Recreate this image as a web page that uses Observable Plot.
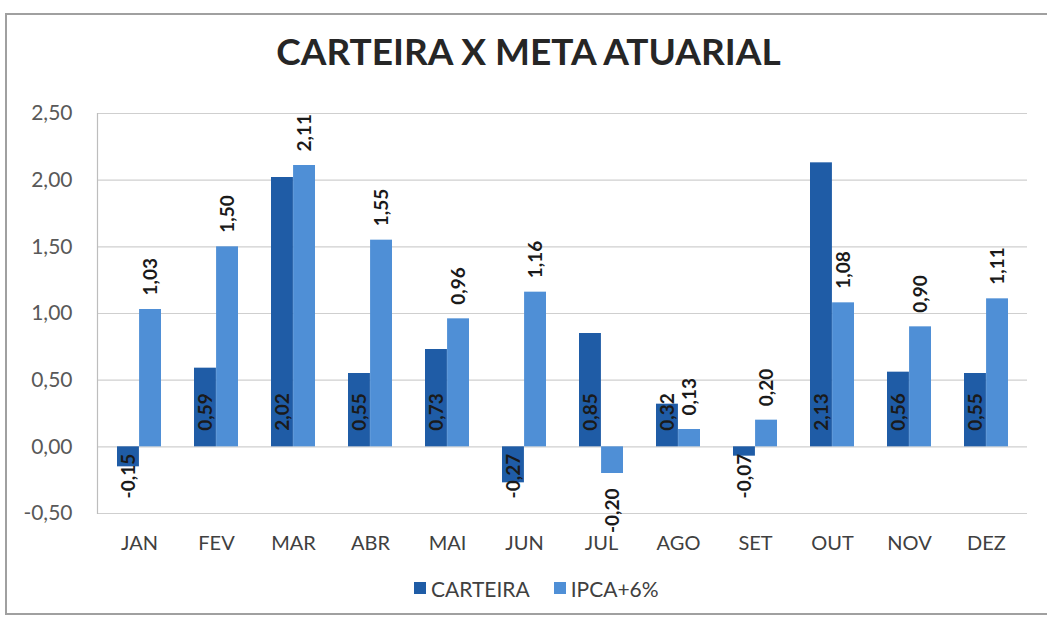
<!DOCTYPE html>
<html>
<head>
<meta charset="utf-8">
<script src="https://cdn.jsdelivr.net/npm/d3@7"></script>
<script src="https://cdn.jsdelivr.net/npm/@observablehq/plot@0.6"></script>
<style>
  html, body { margin: 0; padding: 0; background: #fff; }
  #wrap { position: relative; width: 1047px; height: 628px; overflow: hidden; font-family: Lato, "Open Sans", sans-serif; }
  #border { position: absolute; left: 5px; top: 13px; width: 1060px; height: 602px; border: 2px solid #a0a0a0; box-sizing: border-box; }
  #title { position: absolute; left: 0; top: 28px; width: 1047px; text-align: center; font-weight: 700; font-size: 37px; color: #262626; padding-left: 10px; box-sizing: border-box; }
  #chart { position: absolute; left: 0; top: 95px; }
  #legend { position: absolute; left: 414px; top: 574px; height: 28px; display: flex; align-items: center; font-size: 21px; color: #404040; }
  .sw { display: inline-block; width: 12px; height: 12px; margin-right: 5px; }
  .item { display: flex; align-items: center; margin-right: 24px; }
</style>
</head>
<body>
<div id="wrap">
  <div id="border"></div>
  <div id="title">CARTEIRA X META ATUARIAL</div>
  <div id="chart"></div>
  <div id="legend"></div>
</div>
<script>
const months = ["JAN","FEV","MAR","ABR","MAI","JUN","JUL","AGO","SET","OUT","NOV","DEZ"];
const carteira = [-0.15, 0.59, 2.02, 0.55, 0.73, -0.27, 0.85, 0.32, -0.07, 2.13, 0.56, 0.55];
const ipca = [1.03, 1.50, 2.11, 1.55, 0.96, 1.16, -0.20, 0.13, 0.20, 1.08, 0.90, 1.11];
const yTicks = [-0.5, 0, 0.5, 1, 1.5, 2, 2.5];
const seriesNames = ["CARTEIRA", "IPCA+6%"];
const colors = ["#1f5ca6", "#4f8fd6"];

const fmt = d => d.toFixed(2).replace(".", ",");

const dataC = months.map((m, i) => ({month: m, value: carteira[i]}));
const dataI = months.map((m, i) => ({month: m, value: ipca[i]}));

const W = 1047, ML = 97, MR = 20, MT = 18, MB = 50, H = 468;
const pI = 0.43, pO = 0.215;
const step = (W - ML - MR) / (months.length - pI + 2 * pO);
const bw = step * (1 - pI);
const half = bw / 2;

const labelStyle = {fontSize: 19, fontWeight: "bold", fill: "#1a1a1a", rotate: -90, fontFamily: "Lato, sans-serif"};

const chart = Plot.plot({
  width: W,
  height: H,
  marginLeft: ML,
  marginRight: MR,
  marginTop: MT,
  marginBottom: MB,
  style: {fontFamily: "Lato, sans-serif", background: "transparent"},
  x: {type: "band", domain: months, paddingInner: pI, paddingOuter: pO, label: null},
  y: {domain: [-0.5, 2.5], ticks: yTicks, label: null},
  marks: [
    Plot.ruleY(yTicks, {stroke: "#cfcfcf", strokeWidth: 1.2}),
    Plot.frame({anchor: "left", stroke: "#bdbdbd", strokeWidth: 1.2}),
    Plot.axisY({ticks: yTicks, tickSize: 0, tickPadding: 25, tickFormat: fmt, fontSize: 21, fill: "#595959", label: null}),
    Plot.axisX({tickSize: 0, tickPadding: 22, fontSize: 20, fill: "#404040", label: null}),
    Plot.barY(dataC, {x: "month", y: "value", fill: colors[0], insetRight: half}),
    Plot.barY(dataI, {x: "month", y: "value", fill: colors[1], insetLeft: half}),
    Plot.text(dataC.filter(d => d.value >= 0), {x: "month", y: () => 0, text: d => fmt(d.value), dx: -bw / 4, dy: -16, textAnchor: "start", ...labelStyle}),
    Plot.text(dataC.filter(d => d.value < 0), {x: "month", y: () => 0, text: d => fmt(d.value), dx: -bw / 4, dy: 7, textAnchor: "end", ...labelStyle}),
    Plot.text(dataI.filter(d => d.value >= 0), {x: "month", y: "value", text: d => fmt(d.value), dx: bw / 4, dy: -14, textAnchor: "start", ...labelStyle}),
    Plot.text(dataI.filter(d => d.value < 0), {x: "month", y: "value", text: d => fmt(d.value), dx: bw / 4, dy: 15, textAnchor: "end", ...labelStyle})
  ]
});
document.getElementById("chart").appendChild(chart);

const legend = document.getElementById("legend");
seriesNames.forEach((n, i) => {
  const it = document.createElement("div");
  it.className = "item";
  const sw = document.createElement("span");
  sw.className = "sw";
  sw.style.background = colors[i];
  it.appendChild(sw);
  it.appendChild(document.createTextNode(n));
  legend.appendChild(it);
});
</script>
</body>
</html>
